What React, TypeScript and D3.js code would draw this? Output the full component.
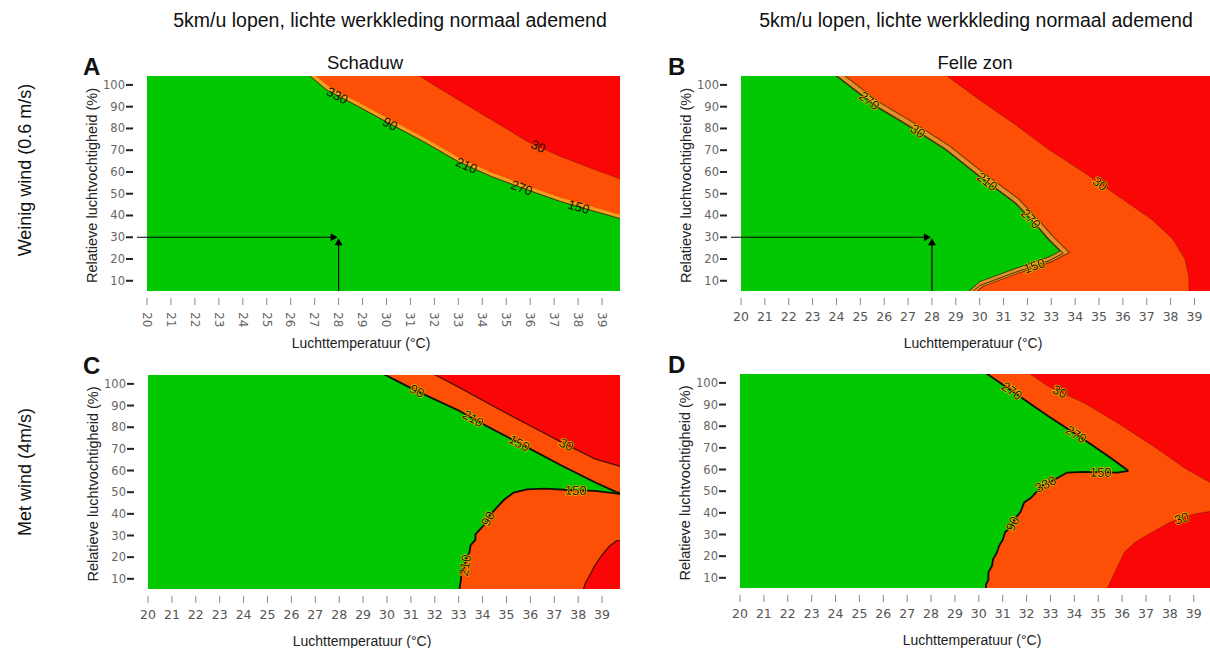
import React from 'react';
import * as d3 from 'd3';

type Pt = [number, number];

// ---------- axis ticks & texts ----------
const temperatureTicks = [20, 21, 22, 23, 24, 25, 26, 27, 28, 29, 30, 31, 32, 33, 34, 35, 36, 37, 38, 39];
const humidityTicks = [10, 20, 30, 40, 50, 60, 70, 80, 90, 100];
const mainTitle = '5km/u lopen, lichte werkkleding normaal ademend';
const columnTitles = ['Schaduw', 'Felle zon'];
const rowTitles = ['Weinig wind (0.6 m/s)', 'Met wind (4m/s)'];
const xAxisTitle = 'Luchttemperatuur (°C)';
const yAxisTitle = 'Relatieve luchtvochtigheid (%)';
const panelLetters = ['A', 'B', 'C', 'D'];

// reference point (T °C, RH %)
const refPoint: Pt = [28, 30];

// ---------- boundaries (T °C, RH %) ----------
// Panel A – schaduw, weinig wind
const aGreenEdge: Pt[] = [[26.6, 106], [27.5, 97.7], [28.7, 90.8], [30.1, 82.4], [31.55, 73.9], [33.0, 64.7], [34.4, 57.8], [35.9, 51.7], [37.3, 46.3], [38.75, 41.7], [40.2, 37.2]];
const aRedEdge: Pt[] = [[31.1, 106], [33.0, 93.1], [34.4, 83.9], [35.9, 73.9], [37.3, 67.0], [38.75, 60.9], [40.2, 55.0]];
const aLabels = [
  { text: '330', curve: 'g', T: 27.96, RH: 95.4 },
  { text: '90', curve: 'g', T: 30.2, RH: 83.1 },
  { text: '210', curve: 'g', T: 33.3, RH: 62 },
  { text: '270', curve: 'g', T: 35.6, RH: 51.5 },
  { text: '150', curve: 'g', T: 38.0, RH: 43 },
  { text: '30', curve: 'r', T: 36.3, RH: 71 },
];

// Panel B – felle zon, weinig wind
const bGreenEdge: Pt[] = [[23.8, 106], [25.7, 90.1], [27.1, 80.9], [28.6, 70.3], [30.0, 58.1], [31.5, 45.9], [32.3, 36.7], [32.9, 29.1], [33.5, 22.6], [32.9, 19.2], [31.5, 13.9], [30.0, 7.8], [29.5, 3]];
const bRedEdge: Pt[] = [[28.4, 106], [30.0, 93.1], [31.5, 81.7], [32.9, 70.3], [34.4, 59.6], [35.8, 48.9], [37.2, 38.3], [38.1, 29.1], [38.6, 20.0], [38.76, 12.3], [38.78, 3]];
const bLabels = [
  { text: '270', curve: 'g', T: 25.3, RH: 91.7 },
  { text: '30', curve: 'g', T: 27.4, RH: 78.7 },
  { text: '210', curve: 'g', T: 30.0, RH: 51 },
  { text: '270', curve: 'g', T: 31.8, RH: 35 },
  { text: '150', curve: 'g', T: 32.3, RH: 16.5 },
  { text: '30', curve: 'r', T: 35.0, RH: 54 },
];

// Panel C – schaduw, met wind
const cGreenTop: Pt[] = [[29.6, 106], [30.8, 99.2], [31.5, 95.4], [33.0, 87.7], [34.4, 79.2], [35.85, 70.8], [37.3, 62.3], [38.7, 54.6], [39.6, 50.0], [40.2, 48.6]];
const cGreenBottom: Pt[] = [[40.2, 48.3], [39.5, 49.6], [38.7, 50.6], [37.6, 51.0], [36.6, 51.6], [35.85, 51.3], [35.3, 49.8], [34.9, 46.5], [34.6, 43.0], [34.3, 39.2], [34.1, 35.5], [33.95, 33.5], [33.7, 30.5], [33.7, 28.0], [33.5, 25.5], [33.45, 22.3], [33.3, 19.0], [33.26, 16.2], [33.1, 12.5], [33.1, 10], [33.0, 3]];
const cRedTop: Pt[] = [[31.7, 106], [33.0, 98.5], [34.4, 90], [35.85, 81.5], [37.3, 73.1], [38.7, 65.4], [40.2, 60.5]];
const cRedLow: Pt[] = [[38.15, 3], [38.3, 8], [38.5, 12], [38.7, 16.2], [39.0, 21], [39.3, 25.0], [39.6, 27.5], [40.2, 28.5]];
const cLabels = [
  { text: '90', curve: 'g', T: 31.2, RH: 95.5 },
  { text: '210', curve: 'g', T: 33.6, RH: 84 },
  { text: '150', curve: 'g', T: 35.5, RH: 72 },
  { text: '30', curve: 'r', T: 37.5, RH: 72 },
  { text: '150', curve: 'gb', T: 37.9, RH: 51 },
  { text: '90', curve: 'gb', T: 34.5, RH: 36 },
  { text: '210', curve: 'gb', T: 33.3, RH: 16 },
];

// Panel D – felle zon, met wind
const dGreenTop: Pt[] = [[30.1, 106], [31.5, 95.4], [32.9, 84.7], [34.4, 73.9], [35.5, 65.5], [36.26, 59.4]];
const dGreenBottom: Pt[] = [[36.26, 59.4], [35.8, 58.6], [34.4, 58.9], [33.7, 58.6], [33.2, 55.5], [32.65, 52.5], [32.2, 47.1], [31.9, 44.8], [31.75, 40.5], [31.5, 37.0], [31.35, 33.5], [31.1, 31.0], [31.0, 27.5], [30.85, 24.8], [30.75, 21.5], [30.6, 18.7], [30.55, 15.5], [30.4, 12.5], [30.4, 9.0], [30.3, 7.0], [30.3, 3]];
const dRedTop: Pt[] = [[31.9, 106], [32.9, 98.5], [34.4, 90.8], [35.8, 81.6], [37.3, 70.9], [38.7, 60.1], [40.2, 51.0]];
const dRedLow: Pt[] = [[35.3, 3], [35.5, 8], [35.7, 12.6], [36.1, 21.8], [36.5, 26.0], [37.0, 29.4], [38.0, 35.6], [39.0, 39.4], [40.2, 41.5]];
const dLabels = [
  { text: '270', curve: 'g', T: 31.3, RH: 95 },
  { text: '270', curve: 'g', T: 34.0, RH: 75 },
  { text: '30', curve: 'r', T: 33.3, RH: 94 },
  { text: '150', curve: 'gb', T: 35.1, RH: 58.7 },
  { text: '330', curve: 'gb', T: 32.8, RH: 53 },
  { text: '90', curve: 'gb', T: 31.4, RH: 35 },
  { text: '30', curve: 'rl', T: 38.5, RH: 37 },
];

// ---------- styling ----------
const COLORS: Record<string, string> = { green: '#02c802', orange: '#fd4f05', red: '#fb0606' };
const CORNERS: Record<string, Pt> = { TL: [19, 106], TR: [40.2, 106], BR: [40.2, 3], BL: [19, 3] };
const SANS = '"Liberation Sans", Arial, sans-serif';
const TICKFONT = '"DejaVu Sans", Verdana, sans-serif';

type PanelCfg = {
  id: number;
  x0: number; x1: number; y0: number; y1: number; xMax: number;
  titleX: number; letterX: number;
  curves: Record<string, Pt[]>;
  polys: { fill: string; seq: string[] }[];
  lines: { curve: string; kind: string }[];
  labels: { text: string; curve: string; T: number; RH: number }[];
  labelHalo: boolean;
  rotatedTicks: boolean;
  arrow: boolean;
};

const panels: PanelCfg[] = [
  {
    id: 0, x0: 147, x1: 620, y0: 76, y1: 291, xMax: 39.75, titleX: 361, letterX: 83,
    curves: { g: aGreenEdge, r: aRedEdge },
    polys: [{ fill: 'orange', seq: ['TL', 'r', 'BR', 'BL'] }, { fill: 'green', seq: ['TL', 'g', 'BR', 'BL'] }],
    lines: [{ curve: 'r', kind: 'soft' }, { curve: 'g', kind: 'band' }],
    labels: aLabels, labelHalo: false, rotatedTicks: true, arrow: true,
  },
  {
    id: 1, x0: 741, x1: 1210, y0: 76, y1: 291, xMax: 39.65, titleX: 973, letterX: 668,
    curves: { g: bGreenEdge, r: bRedEdge },
    polys: [{ fill: 'orange', seq: ['TL', 'r', 'BL'] }, { fill: 'green', seq: ['TL', 'g', 'BL'] }],
    lines: [{ curve: 'r', kind: 'soft' }, { curve: 'g', kind: 'wideband' }],
    labels: bLabels, labelHalo: true, rotatedTicks: false, arrow: true,
  },
  {
    id: 2, x0: 148, x1: 620, y0: 375, y1: 589, xMax: 39.75, titleX: 362, letterX: 83,
    curves: { g: cGreenTop, gb: cGreenBottom, r: cRedTop, rl: cRedLow },
    polys: [
      { fill: 'orange', seq: ['TL', 'r', 'BR', 'BL'] },
      { fill: 'red', seq: ['rl', 'BR'] },
      { fill: 'green', seq: ['TL', 'g', 'gb', 'BL'] },
    ],
    lines: [{ curve: 'r', kind: 'dark' }, { curve: 'rl', kind: 'dark' }, { curve: 'g', kind: 'black' }, { curve: 'gb', kind: 'black' }],
    labels: cLabels, labelHalo: true, rotatedTicks: false, arrow: false,
  },
  {
    id: 3, x0: 740, x1: 1210, y0: 374, y1: 588, xMax: 39.68, titleX: 972, letterX: 668,
    curves: { g: dGreenTop, gb: dGreenBottom, r: dRedTop, rl: dRedLow },
    polys: [
      { fill: 'orange', seq: ['TL', 'r', 'BR', 'BL'] },
      { fill: 'red', seq: ['rl', 'BR'] },
      { fill: 'green', seq: ['TL', 'g', 'gb', 'BL'] },
    ],
    lines: [{ curve: 'r', kind: 'soft' }, { curve: 'rl', kind: 'soft' }, { curve: 'g', kind: 'black' }, { curve: 'gb', kind: 'black' }],
    labels: dLabels, labelHalo: true, rotatedTicks: false, arrow: false,
  },
];

function project(pts: [number, number][], px: number, py: number) {
  let best = { d: Infinity, x: px, y: py, ang: 0 };
  for (let i = 0; i < pts.length - 1; i++) {
    const [ax, ay] = pts[i];
    const [bx, by] = pts[i + 1];
    const dx = bx - ax, dy = by - ay;
    const len2 = dx * dx + dy * dy || 1;
    let t = ((px - ax) * dx + (py - ay) * dy) / len2;
    t = Math.max(0, Math.min(1, t));
    const qx = ax + t * dx, qy = ay + t * dy;
    const d = (qx - px) ** 2 + (qy - py) ** 2;
    if (d < best.d) {
      let ang = (Math.atan2(dy, dx) * 180) / Math.PI;
      if (ang > 90) ang -= 180;
      if (ang < -90) ang += 180;
      best = { d, x: qx, y: qy, ang };
    }
  }
  return best;
}

function Panel({ cfg }: { cfg: PanelCfg }) {
  const x = d3.scaleLinear().domain([20, cfg.xMax]).range([cfg.x0, cfg.x1]);
  const y = d3.scaleLinear().domain([5.3, 104.1]).range([cfg.y1, cfg.y0]);
  const line = d3.line<Pt>().x((d) => x(d[0])).y((d) => y(d[1]));
  const clipId = `clip-${cfg.id}`;
  const seqPts = (seq: string[]): Pt[] => seq.flatMap((k) => (CORNERS[k] ? [CORNERS[k]] : cfg.curves[k]));
  const w = cfg.x1 - cfg.x0;
  const h = cfg.y1 - cfg.y0;
  const cy = (cfg.y0 + cfg.y1) / 2;
  const arrowX = x(refPoint[0]);
  const arrowY = y(refPoint[1]);

  return (
    <g>
      <defs>
        <clipPath id={clipId}>
          <rect x={cfg.x0} y={cfg.y0} width={w} height={h} />
        </clipPath>
      </defs>
      <g clipPath={`url(#${clipId})`}>
        <rect x={cfg.x0} y={cfg.y0} width={w} height={h} fill={COLORS.red} />
        {cfg.polys.map((p, i) => (
          <path key={i} d={line(seqPts(p.seq)) + 'Z'} fill={COLORS[p.fill]} />
        ))}
        {cfg.lines.map((l, i) => {
          const d = line(cfg.curves[l.curve]) || '';
          if (l.kind === 'band')
            return (
              <g key={i}>
                <path d={d} fill="none" stroke="#f0a020" strokeWidth={3.5} transform="translate(1.5,-1.5)" />
                <path d={d} fill="none" stroke="#2a1c00" strokeWidth={1} strokeOpacity={0.8} />
              </g>
            );
          if (l.kind === 'wideband')
            return (
              <g key={i}>
                <path d={d} fill="none" stroke="#3a2000" strokeWidth={6.5} strokeOpacity={0.7} transform="translate(1.5,-1.5)" />
                <path d={d} fill="none" stroke="#e2902a" strokeWidth={4.5} transform="translate(1.5,-1.5)" />
                <path d={d} fill="none" stroke="#201000" strokeWidth={1} strokeOpacity={0.8} />
              </g>
            );
          if (l.kind === 'black')
            return <path key={i} d={d} fill="none" stroke="#101000" strokeWidth={1.8} />;
          if (l.kind === 'dark')
            return <path key={i} d={d} fill="none" stroke="#3a0800" strokeWidth={1.3} strokeOpacity={0.85} />;
          return <path key={i} d={d} fill="none" stroke="#7a1000" strokeWidth={0.9} strokeOpacity={0.55} />;
        })}
        {cfg.labels.map((lb, i) => {
          const pts = cfg.curves[lb.curve].map((p) => [x(p[0]), y(p[1])] as [number, number]);
          const pr = project(pts, x(lb.T), y(lb.RH));
          return (
            <text
              key={i}
              x={0}
              y={0}
              transform={`translate(${pr.x},${pr.y}) rotate(${pr.ang})`}
              textAnchor="middle"
              dy="0.35em"
              fontFamily={SANS}
              fontSize={13}
              fill="#1a1200"
              stroke={cfg.labelHalo ? '#f2c000' : 'none'}
              strokeWidth={cfg.labelHalo ? 1.3 : 0}
              paintOrder="stroke"
            >
              {lb.text}
            </text>
          );
        })}
        {cfg.arrow && (
          <g>
            <line x1={cfg.x0 - 10} x2={arrowX - 5} y1={arrowY} y2={arrowY} stroke="#000" strokeWidth={1} />
            <line x1={arrowX} x2={arrowX} y1={cfg.y1} y2={arrowY + 6} stroke="#000" strokeWidth={1.2} />
            <path
              d={`M${arrowX - 8},${arrowY - 4} L${arrowX - 1},${arrowY} L${arrowX - 8},${arrowY + 4} Z`}
              fill="#000"
            />
            <path
              d={`M${arrowX - 4},${arrowY + 8} L${arrowX},${arrowY + 1} L${arrowX + 4},${arrowY + 8} Z`}
              fill="#000"
            />
          </g>
        )}
      </g>
      {cfg.arrow && (
        <line x1={cfg.x0 - 10} x2={cfg.x0} y1={arrowY} y2={arrowY} stroke="#000" strokeWidth={1} />
      )}

      {/* y axis */}
      {humidityTicks.map((t) => (
        <g key={t}>
          <text x={cfg.x0 - 22} y={y(t) + 4} textAnchor="end" fontFamily={TICKFONT} fontSize={11.5} fill="#666">
            {t}
          </text>
          <line x1={cfg.x0 - 21} x2={cfg.x0 - 14} y1={y(t)} y2={y(t)} stroke="#222" strokeWidth={2} />
        </g>
      ))}
      <text
        transform={`translate(${cfg.x0 - 55},${cy + 2}) rotate(-90)`}
        textAnchor="middle"
        dy="0.35em"
        fontFamily={SANS}
        fontSize={14.5}
        fill="#222"
      >
        {yAxisTitle}
      </text>

      {/* x axis */}
      {temperatureTicks.map((t) => (
        <g key={t}>
          <line x1={x(t)} x2={x(t)} y1={cfg.y1 + 7} y2={cfg.y1 + 14} stroke="#888" strokeWidth={1} />
          {cfg.rotatedTicks ? (
            <text
              transform={`translate(${x(t)},${cfg.y1 + 21}) rotate(90)`}
              dy="0.35em"
              fontFamily={TICKFONT}
              fontSize={12}
              fill="#666"
            >
              {t}
            </text>
          ) : (
            <text x={x(t)} y={cfg.y1 + 30} textAnchor="middle" fontFamily={TICKFONT} fontSize={12.5} fill="#555">
              {t}
            </text>
          )}
        </g>
      ))}
      <text x={cfg.titleX} y={cfg.y1 + 57} textAnchor="middle" fontFamily={SANS} fontSize={14} fill="#222">
        {xAxisTitle}
      </text>

      <text x={cfg.letterX} y={cfg.y0 - 1} fontFamily={SANS} fontWeight="bold" fontSize={24} fill="#111">
        {panelLetters[cfg.id]}
      </text>
    </g>
  );
}

export default function App() {
  return (
    <svg
      width={1210}
      height={648}
      style={{ position: 'absolute', left: 0, top: 0, background: '#fff' }}
      xmlns="http://www.w3.org/2000/svg"
    >
      <rect x={0} y={0} width={1210} height={648} fill="#fff" />
      <text x={390} y={27} textAnchor="middle" fontFamily={SANS} fontSize={19.5} fill="#111">
        {mainTitle}
      </text>
      <text x={976} y={27} textAnchor="middle" fontFamily={SANS} fontSize={19.5} fill="#111">
        {mainTitle}
      </text>
      <text x={365} y={69} textAnchor="middle" fontFamily={SANS} fontSize={18.5} fill="#111">
        {columnTitles[0]}
      </text>
      <text x={975} y={69} textAnchor="middle" fontFamily={SANS} fontSize={18.5} fill="#111">
        {columnTitles[1]}
      </text>
      <text
        transform="translate(25,170) rotate(-90)"
        textAnchor="middle"
        dy="0.35em"
        fontFamily={SANS}
        fontSize={18}
        fill="#111"
      >
        {rowTitles[0]}
      </text>
      <text
        transform="translate(25,472) rotate(-90)"
        textAnchor="middle"
        dy="0.35em"
        fontFamily={SANS}
        fontSize={18}
        fill="#111"
      >
        {rowTitles[1]}
      </text>
      {panels.map((p) => (
        <Panel key={p.id} cfg={p} />
      ))}
    </svg>
  );
}
